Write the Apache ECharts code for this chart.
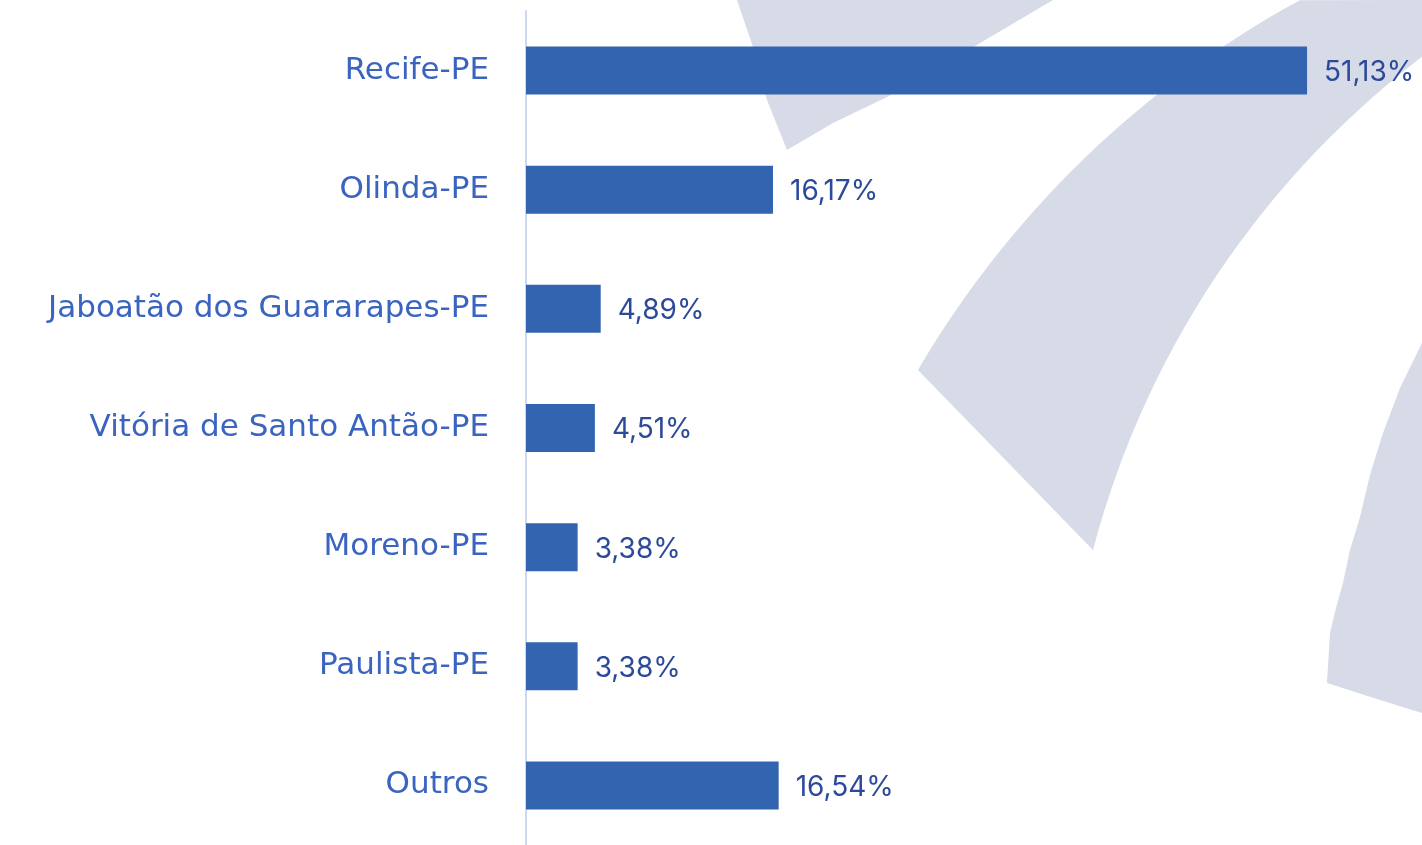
<!DOCTYPE html>
<html>
<head>
<meta charset="utf-8">
<title>Municípios</title>
<script src="https://cdn.jsdelivr.net/npm/echarts@6/dist/echarts.min.js"></script>
<style>
  html, body { margin: 0; padding: 0; background: #fff; }
  #chart { width: 1422px; height: 845px; }
</style>
</head>
<body>
<div id="chart"></div>
<script>
// dados
var cidades = ['Recife-PE', 'Olinda-PE', 'Jaboatão dos Guararapes-PE', 'Vitória de Santo Antão-PE', 'Moreno-PE', 'Paulista-PE', 'Outros'];
var percentuais = [51.13, 16.17, 4.89, 4.51, 3.38, 3.38, 16.54];

var azulBarra = '#3264af';
var azulTexto = '#3a64c0';
var azulValor = '#2c4a9a';
var cinzaMarca = '#d7dae7';

var chart = echarts.init(document.getElementById('chart'));

// pontos de um arco (so para desenhar a marca d'agua do fundo)
function arco(cx, cy, r, p0, p1) {
  var a0 = Math.atan2(p0[1] - cy, p0[0] - cx);
  var a1 = Math.atan2(p1[1] - cy, p1[0] - cx);
  var pts = [];
  for (var i = 0; i <= 30; i++) {
    var a = a0 + (a1 - a0) * i / 30;
    pts.push([cx + r * Math.cos(a), cy + r * Math.sin(a)]);
  }
  return pts;
}

var faixa = arco(1773, 871, 991, [918, 370], [1300, 0])
  .concat([[1422, 0], [1422, 57]])
  .concat(arco(1975, 782, 912, [1422, 57], [1093, 550]));

// marca d'agua ao fundo (decorativa)
var marca = [
  [[737, 0], [753, 47], [767, 100], [787, 150], [833, 123], [887, 97], [970, 49], [1053, 0]],
  faixa,
  [[1422, 343], [1400, 388], [1383, 433], [1370, 475], [1360, 517], [1350, 550], [1343, 583], [1336, 608], [1330, 633], [1327, 683], [1380, 700], [1422, 713]]
].map(function (pts) {
  return {
    type: 'polygon',
    shape: { points: pts },
    style: { fill: cinzaMarca },
    silent: true,
    z: -10
  };
});

chart.setOption({
  backgroundColor: '#fff',
  animation: false,
  graphic: marca,
  grid: {
    left: 526,
    right: 10,
    top: 11,
    height: 838
  },
  xAxis: {
    type: 'value',
    min: 0,
    max: 58,
    show: false
  },
  yAxis: {
    type: 'category',
    data: cidades,
    inverse: true,
    axisLine: { show: true, lineStyle: { color: '#cdd8ee', width: 2 } },
    axisTick: { show: false },
    axisLabel: {
      color: azulTexto,
      fontFamily: 'DejaVu Sans',
      fontSize: 31,
      margin: 37
    }
  },
  series: [{
    type: 'bar',
    data: percentuais,
    barWidth: 48,
    itemStyle: { color: azulBarra },
    label: {
      show: true,
      position: 'right',
      distance: 17,
      offset: [0, 2],
      color: azulValor,
      fontFamily: 'Inter',
      fontSize: 28,
      formatter: function (p) {
        return p.value.toFixed(2).replace('.', ',') + '%';
      }
    }
  }]
});
</script>
</body>
</html>
